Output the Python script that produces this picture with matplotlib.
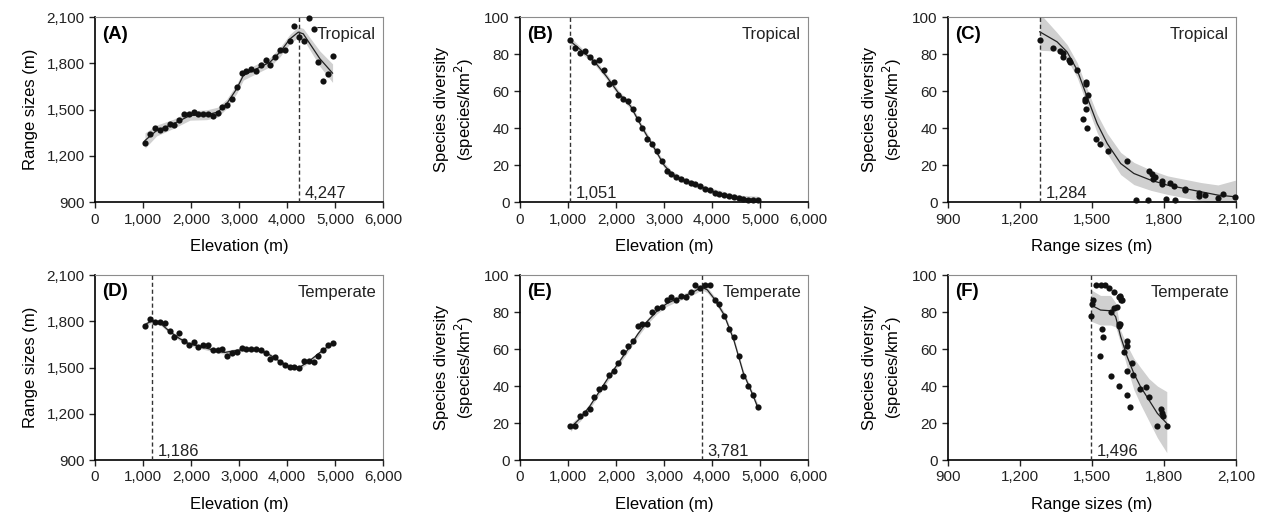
import matplotlib
matplotlib.use("Agg")
import matplotlib.pyplot as plt
from matplotlib.ticker import FuncFormatter

plt.rcParams['font.family'] = ['Liberation Sans', 'DejaVu Sans']

# elevation of the sampled bands (m)
elev = [1050, 1150, 1250, 1350, 1450, 1550, 1650, 1750, 1850, 1950,
        2050, 2150, 2250, 2350, 2450, 2550, 2650, 2750, 2850, 2950,
        3050, 3150, 3250, 3350, 3450, 3550, 3650, 3750, 3850, 3950,
        4050, 4150, 4250, 4350, 4450, 4550, 4650, 4750, 4850, 4950]

# tropical
range_trop = [1285, 1339, 1380, 1365, 1380, 1408, 1402, 1436, 1473, 1473,
              1484, 1469, 1469, 1473, 1462, 1477, 1516, 1531, 1568, 1646,
              1737, 1750, 1761, 1754, 1791, 1825, 1791, 1841, 1888, 1888,
              1944, 2046, 1970, 1944, 2096, 2024, 1808, 1683, 1732, 1845]
div_trop = [87.7, 83.2, 80.5, 81.6, 78.7, 75.7, 76.9, 71.4, 64.0, 64.7,
            58.0, 55.7, 54.6, 50.5, 45.2, 40.0, 34.2, 31.2, 27.9, 22.5,
            17.1, 15.1, 13.5, 12.6, 11.7, 10.3, 9.9, 8.8, 7.2, 6.8,
            5.2, 4.5, 4.0, 3.4, 2.7, 2.3, 1.8, 1.4, 1.4, 1.3]

# temperate
range_temp = [1771, 1812, 1797, 1793, 1787, 1737, 1700, 1726, 1672, 1646,
              1668, 1631, 1646, 1646, 1614, 1614, 1618, 1577, 1592, 1603,
              1624, 1618, 1622, 1618, 1614, 1592, 1555, 1570, 1538, 1516,
              1505, 1501, 1495, 1542, 1544, 1534, 1577, 1614, 1646, 1657]
div_temp = [18.6, 18.6, 23.8, 25.2, 27.7, 34.2, 38.2, 39.6, 45.8, 48.3,
            52.3, 58.4, 61.6, 64.3, 72.6, 73.3, 73.3, 79.8, 82.0, 82.5,
            86.8, 87.9, 86.8, 88.6, 87.9, 90.6, 94.8, 93.2, 94.8, 94.6,
            86.5, 84.1, 78.0, 71.0, 66.5, 56.2, 45.4, 40.0, 35.1, 28.6]

# fitted curves and confidence bands
fitA_x = [1040, 1283, 1630, 1977, 2324, 2553, 2740, 2948, 3087, 3364,
          3641, 3849, 4058, 4231, 4335, 4474, 4682, 4945]
fitA_y = [1300, 1365, 1408, 1462, 1467, 1484, 1538, 1635, 1722, 1765,
          1808, 1873, 1959, 2003, 1992, 1927, 1830, 1737]
fitA_ci = [50, 35, 30, 30, 32, 32, 30, 30, 30, 30, 30, 30, 30, 35, 35, 40, 50, 60]

fitB_x = [1050, 1300, 1550, 1800, 2050, 2300, 2550, 2800, 3000, 3150,
          3400, 3700, 4000, 4300, 4600, 4950]
fitB_y = [87, 81.5, 76, 68, 59, 52, 40, 29, 20, 15.5, 12, 9, 6, 3.8, 2.2, 1.2]
fitB_ci = [2, 1.5, 1.5, 1.5, 1.5, 1.5, 1.5, 1.5, 1.5, 1.5, 1.5, 1.5, 1.5, 1.5, 1.5, 2]

fitC_x = [1282, 1354, 1396, 1438, 1479, 1521, 1563, 1619, 1674, 1744,
          1814, 1884, 1954, 2024, 2097]
fitC_y = [92.1, 86.7, 81.2, 71.4, 56.9, 42.5, 31.7, 20.9, 15.5, 11.9,
          9.2, 7.4, 5.6, 3.8, 2.9]
fitC_ci = [10, 5, 4, 4, 4.5, 5, 5.5, 6, 6, 5.5, 5, 5, 5, 5.5, 9]

fitD_x = [1050, 1186, 1350, 1550, 1750, 1950, 2200, 2450, 2700, 2950,
          3200, 3450, 3650, 3850, 4050, 4250, 4450, 4650, 4950]
fitD_y = [1780, 1805, 1790, 1735, 1690, 1655, 1635, 1615, 1598, 1612,
          1620, 1612, 1580, 1540, 1505, 1500, 1540, 1590, 1660]
fitD_ci = [15, 12, 12, 12, 12, 12, 12, 12, 12, 12, 12, 12, 12, 12, 12, 12, 12, 12, 15]

fitE_x = [1050, 1250, 1450, 1650, 1850, 2050, 2250, 2450, 2650, 2850,
          3050, 3250, 3450, 3650, 3781, 3900, 4050, 4250, 4450, 4650,
          4850, 4950]
fitE_y = [17.5, 22.5, 29, 37, 45, 52.5, 60, 68, 75, 80.5,
          84.5, 87, 89, 91.5, 93.5, 92, 87, 78.5, 65, 47,
          35, 28.5]
fitE_ci = [2, 1.5, 1.5, 1.5, 1.5, 1.5, 1.5, 1.5, 1.5, 1.5,
           1.5, 1.5, 1.5, 1.5, 1.5, 1.5, 1.5, 1.5, 1.5, 1.5, 1.5, 2]

fitF_x = [1496, 1535, 1577, 1598, 1619, 1646, 1674, 1702, 1737, 1772, 1811]
fitF_y = [83.8, 81.1, 80.7, 77.5, 66.7, 55.9, 46.8, 39.6, 32.4, 25.2, 19.8]
fitF_lo = [75, 73, 73, 72, 63, 50, 38, 30, 21, 12, 4]
fitF_hi = [92, 89, 89, 85, 70, 62, 55, 50, 44, 40, 37]

thresholds = {'A': 4247, 'B': 1051, 'C': 1284, 'D': 1186, 'E': 3781, 'F': 1496}

elev_ticks = [0, 1000, 2000, 3000, 4000, 5000, 6000]
range_ticks = [900, 1200, 1500, 1800, 2100]
div_ticks = [0, 20, 40, 60, 80, 100]

comma = FuncFormatter(lambda v, p: f"{int(v):,}")

fig = plt.figure(figsize=(12.64, 5.21), dpi=100)
lefts = [0.0752, 0.4114, 0.750]
bottoms = [0.612, 0.117]
w, h = 0.228, 0.355

def style(ax):
    for s in ['top', 'right']:
        ax.spines[s].set_color('#8c8c8c')
        ax.spines[s].set_linewidth(0.8)
    for s in ['left', 'bottom']:
        ax.spines[s].set_color('black')
        ax.spines[s].set_linewidth(1.2)
    ax.tick_params(direction='out', length=4, width=1, labelsize=11, colors='#222222')
    ax.xaxis.set_major_formatter(comma)
    ax.yaxis.set_major_formatter(comma)

def band(ax, x, y, ci):
    lo = [a - b for a, b in zip(y, ci)]
    hi = [a + b for a, b in zip(y, ci)]
    ax.fill_between(x, lo, hi, color='#d0d0d0', lw=0, zorder=1)
    ax.plot(x, y, color='#222222', lw=0.9, zorder=2)

def mark(ax, letter, zone, thr):
    ax.text(0.025, 0.955, f"({letter})", transform=ax.transAxes, ha='left', va='top',
            fontsize=13.5, fontweight='bold', zorder=5)
    ax.text(0.975, 0.945, zone, transform=ax.transAxes, ha='right', va='top',
            fontsize=12, color='#222222', zorder=5)
    ax.axvline(thr, color='#333333', lw=1, ls=(0, (3, 2)), zorder=3)
    ax.annotate(f"{thr:,}", xy=(thr, 0), xycoords=('data', 'axes fraction'),
                xytext=(4, 1), textcoords='offset points', ha='left', va='bottom',
                fontsize=12, color='#222222', zorder=5)

panels = [
    ('A', 'Tropical', 0, 0, elev, range_trop, 'elev', 'range'),
    ('B', 'Tropical', 1, 0, elev, div_trop, 'elev', 'div'),
    ('C', 'Tropical', 2, 0, range_trop, div_trop, 'range', 'div'),
    ('D', 'Temperate', 0, 1, elev, range_temp, 'elev', 'range'),
    ('E', 'Temperate', 1, 1, elev, div_temp, 'elev', 'div'),
    ('F', 'Temperate', 2, 1, range_temp, div_temp, 'range', 'div'),
]

for letter, zone, col, row, xs, ys, xk, yk in panels:
    ax = fig.add_axes([lefts[col], bottoms[row], w, h])
    style(ax)
    if xk == 'elev':
        ax.set_xlim(0, 6000)
        ax.set_xticks(elev_ticks)
        ax.set_xlabel("Elevation (m)", fontsize=12, labelpad=9)
    else:
        ax.set_xlim(900, 2100)
        ax.set_xticks(range_ticks)
        ax.set_xlabel("Range sizes (m)", fontsize=12, labelpad=9)
    if yk == 'range':
        ax.set_ylim(900, 2100)
        ax.set_yticks(range_ticks)
        ax.set_ylabel("Range sizes (m)", fontsize=12, labelpad=6)
    else:
        ax.set_ylim(0, 100)
        ax.set_yticks(div_ticks)
        ax.set_ylabel("Species diversity\n(species/km$^2$)", fontsize=12, labelpad=6)

    if letter == 'A':
        band(ax, fitA_x, fitA_y, fitA_ci)
    elif letter == 'B':
        band(ax, fitB_x, fitB_y, fitB_ci)
    elif letter == 'C':
        band(ax, fitC_x, fitC_y, fitC_ci)
    elif letter == 'D':
        band(ax, fitD_x, fitD_y, fitD_ci)
    elif letter == 'E':
        band(ax, fitE_x, fitE_y, fitE_ci)
    else:
        ax.fill_between(fitF_x, fitF_lo, fitF_hi, color='#d0d0d0', lw=0, zorder=1)
        ax.plot(fitF_x, fitF_y, color='#222222', lw=0.9, zorder=2)

    ax.scatter(xs, ys, s=20, color='#111111', lw=0, zorder=4, clip_on=False)
    mark(ax, letter, zone, thresholds[letter])

fig.savefig("out.png", dpi=100)
